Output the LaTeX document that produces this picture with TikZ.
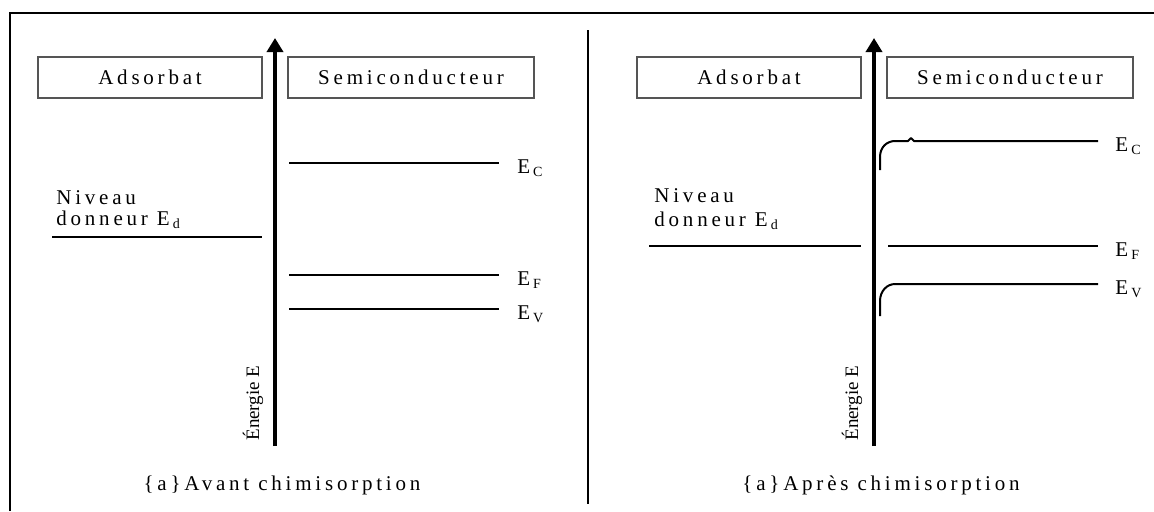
\documentclass[tikz,border=0pt]{standalone}
\usepackage{fontspec}
\setmainfont{Liberation Serif}
\newfontfamily\spaced[LetterSpace=18]{Liberation Serif}
\usetikzlibrary{arrows.meta,positioning}
\definecolor{ink}{HTML}{000000}
\definecolor{frame}{HTML}{555555}
\newcommand{\labfont}{\spaced\fontsize{10.5pt}{12pt}\selectfont}
\newcommand{\lvsub}[1]{\hspace{1.5pt}\raisebox{-1.5pt}{\fontsize{7pt}{8pt}\selectfont #1}}
\tikzset{
  rule/.style={draw=ink, line width=1pt},
  lvl/.style={draw=ink, line width=1pt, line join=round},
  axis/.style={draw=ink, line width=2pt, -{Triangle[length=7pt, width=8pt]}},
  box/.style={draw=frame, line width=1pt, minimum height=20.5pt, inner sep=0pt, font=\labfont},
  lab/.style={text=ink, inner sep=0pt, font=\labfont},
  axl/.style={text=ink, inner sep=0pt, rotate=90, font=\fontsize{9.5pt}{11pt}\selectfont},
}

\begin{document}
\begin{tikzpicture}[x=0.5pt, y=-0.5pt]
\useasboundingbox (0,0) rectangle (1154,511);
% frame
\coordinate (bl) at (10,511);
\coordinate (tl) at (10,13);
\coordinate (tr) at (1154,13);
\draw[rule] (bl) -- (tl) -- (tr);
\coordinate (dtop) at (588,30);
\coordinate (dbot) at (588,504);
\draw[rule] (dtop) -- (dbot);
% both panels
\foreach \p/\dx/\t in {A/0/{Avant}, B/599/{Après}}{
  \coordinate (bot\p) at (275+\dx,446);
  \coordinate (top\p) at (275+\dx,38);
  \draw[axis] (bot\p) -- (top\p);
  \node[box, minimum width=112pt] (ads\p) at (150+\dx,77.5) {Adsorbat};
  \node[box, minimum width=123pt] (sem\p) at (411+\dx,77.5) {Semiconducteur};
  \node[axl] (ene\p) at (253+\dx,403) {Énergie E};
  \node[lab] (cap\p) at (282+\dx,485) {\{a\}\t\ chimisorption};
}
% avant
\coordinate (ecA1) at (289,163); \coordinate (ecA2) at (499,163);
\coordinate (efA1) at (289,275); \coordinate (efA2) at (499,275);
\coordinate (evA1) at (289,309); \coordinate (evA2) at (499,309);
\coordinate (edA1) at (52,237);  \coordinate (edA2) at (262,237);
\draw[lvl] (ecA1) -- (ecA2);
\draw[lvl] (efA1) -- (efA2);
\draw[lvl] (evA1) -- (evA2);
\draw[lvl] (edA1) -- (edA2);
\node[lab, anchor=base west] (ecAl) at (517,173) {E\lvsub{C}};
\node[lab, anchor=base west] (efAl) at (517,285) {E\lvsub{F}};
\node[lab, anchor=base west] (evAl) at (517,319) {E\lvsub{V}};
\node[lab, anchor=base west] (nivA) at (56,204) {Niveau};
\node[lab, anchor=base west] (donA) at (56,225) {donneur E\lvsub{d}};
% apres
\coordinate (ecB1) at (880,170); \coordinate (ecB2) at (1098,141);
\coordinate (efB1) at (888,246); \coordinate (efB2) at (1098,246);
\coordinate (evB1) at (880,316); \coordinate (evB2) at (1098,284);
\coordinate (edB1) at (649,246); \coordinate (edB2) at (861,246);
\draw[lvl] (ecB1) -- ++(0,-13) .. controls +(0,-10) and +(-8,0) .. ++(15,-16)
  -- ++(13,0) -- ++(3,-3) -- ++(3,3) -- (ecB2);
\draw[lvl] (efB1) -- (efB2);
\draw[lvl] (evB1) -- ++(0,-15) .. controls +(0,-10) and +(-8,0) .. ++(15,-17) -- (evB2);
\draw[lvl] (edB1) -- (edB2);
\node[lab, anchor=base west] (ecBl) at (1115,151) {E\lvsub{C}};
\node[lab, anchor=base west] (efBl) at (1115,256) {E\lvsub{F}};
\node[lab, anchor=base west] (evBl) at (1115,294) {E\lvsub{V}};
\node[lab, anchor=base west] (nivB) at (654,202) {Niveau};
\node[lab, anchor=base west] (donB) at (654,226) {donneur E\lvsub{d}};
\end{tikzpicture}
\end{document}
